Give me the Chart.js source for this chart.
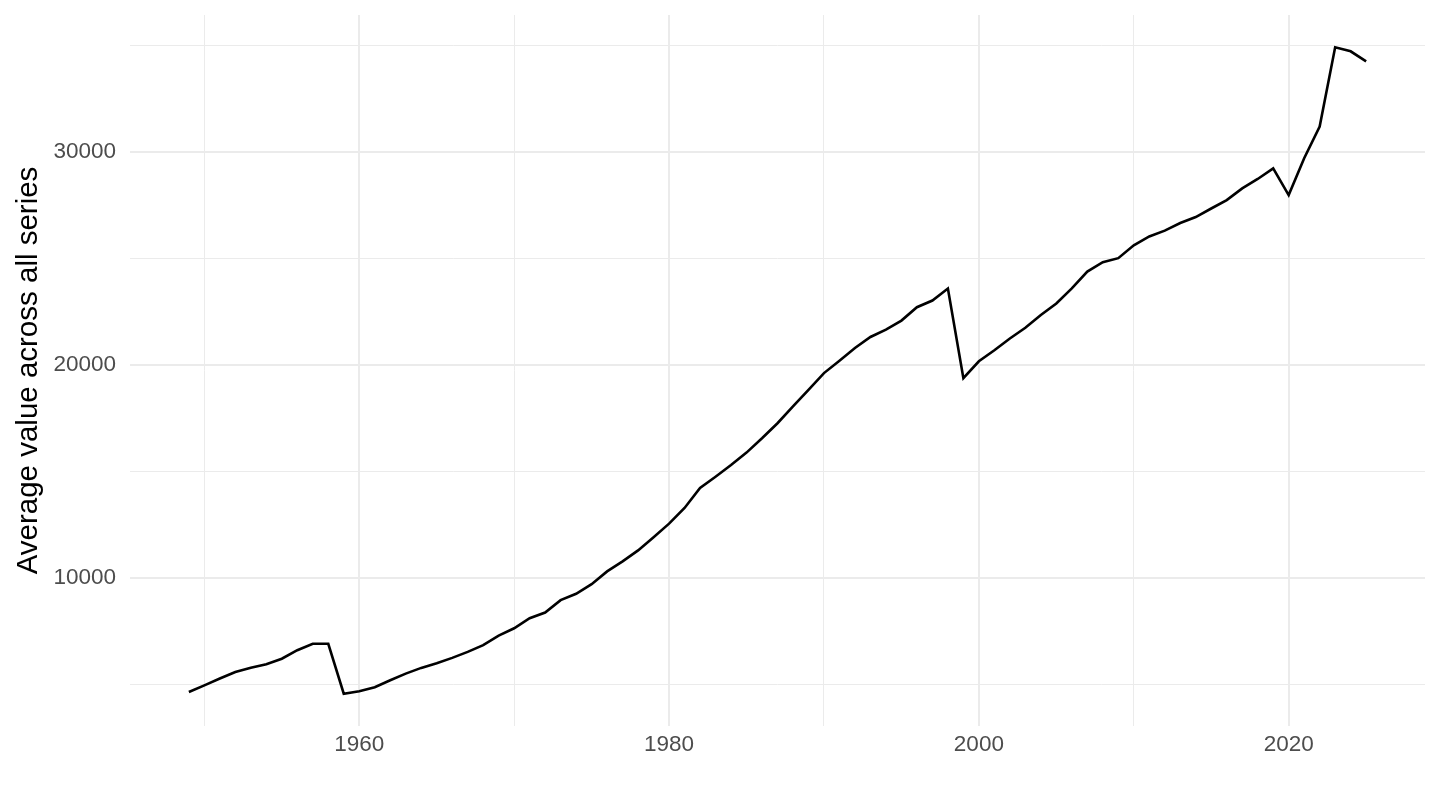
<!DOCTYPE html>
<html>
<head>
<meta charset="utf-8">
<script src="https://cdn.jsdelivr.net/npm/chart.js@4"></script>
<style>
  html, body { margin: 0; padding: 0; background: #fff; }
  #wrap { width: 1440px; height: 810px; }
</style>
</head>
<body>
<div id="wrap"><canvas id="avgChart" width="1440" height="810"></canvas></div>
<script>
const years = [
  1949, 1950, 1951, 1952, 1953, 1954, 1955, 1956, 1957, 1958,
  1959, 1960, 1961, 1962, 1963, 1964, 1965, 1966, 1967, 1968,
  1969, 1970, 1971, 1972, 1973, 1974, 1975, 1976, 1977, 1978,
  1979, 1980, 1981, 1982, 1983, 1984, 1985, 1986, 1987, 1988,
  1989, 1990, 1991, 1992, 1993, 1994, 1995, 1996, 1997, 1998,
  1999, 2000, 2001, 2002, 2003, 2004, 2005, 2006, 2007, 2008,
  2009, 2010, 2011, 2012, 2013, 2014, 2015, 2016, 2017, 2018,
  2019, 2020, 2021, 2022, 2023, 2024, 2025
];
const avgValues = [
  4640, 4950, 5270, 5580, 5780, 5940, 6200, 6600, 6900, 6900,
  4560, 4670, 4860, 5190, 5500, 5770, 5990, 6240, 6520, 6840,
  7285, 7630, 8100, 8370, 8950, 9250, 9700, 10300, 10770, 11285,
  11900, 12540, 13275, 14215, 14744, 15294, 15873, 16546, 17252, 18038,
  18823, 19605, 20188, 20780, 21300, 21645, 22070, 22696, 23010, 23576,
  19370, 20160, 20680, 21230, 21730, 22330, 22870, 23580, 24370, 24810,
  25000, 25600, 26020, 26290, 26650, 26930, 27330, 27725, 28275, 28715,
  29215, 27960, 29686, 31176, 34894, 34706, 34235
];
const xBreaks = [1950, 1960, 1970, 1980, 1990, 2000, 2010, 2020];
const xLabels = [1960, 1980, 2000, 2020];
const yBreaks = [5000, 10000, 15000, 20000, 25000, 30000, 35000];
const yLabels = [10000, 20000, 30000];
const yTitle = 'Average value across all series';

// ggplot-style 5% expansion of the data range
function expand(arr) {
  const lo = Math.min(...arr), hi = Math.max(...arr);
  const pad = (hi - lo) * 0.05;
  return [lo - pad, hi + pad];
}
const [xMin, xMax] = expand(years);
const [yMin, yMax] = expand(avgValues);

const points = years.map((y, i) => ({x: y, y: avgValues[i]}));
const FONT = "'Liberation Sans', Arial, Helvetica, sans-serif";

new Chart(document.getElementById('avgChart'), {
  type: 'line',
  data: {
    datasets: [{
      data: points,
      borderColor: '#000000',
      borderWidth: 2.6,
      pointRadius: 0,
      tension: 0,
      fill: false
    }]
  },
  options: {
    responsive: false,
    animation: false,
    devicePixelRatio: 1,
    layout: { padding: { top: 15, right: 15, left: 0, bottom: 0 } },
    plugins: { legend: { display: false }, tooltip: { enabled: false } },
    scales: {
      x: {
        type: 'linear',
        min: xMin,
        max: xMax,
        border: { display: false },
        afterBuildTicks: s => { s.ticks = xBreaks.map(v => ({value: v})); },
        afterFit: s => { s.height = 84; s.paddingLeft = 0; s.paddingRight = 0; },
        grid: {
          color: '#EBEBEB',
          drawTicks: false,
          lineWidth: c => (c.tick && xLabels.includes(c.tick.value)) ? 2 : 1
        },
        ticks: {
          autoSkip: false,
          maxRotation: 0,
          padding: 5,
          color: '#4D4D4D',
          font: { family: FONT, size: 22.5 },
          callback: v => xLabels.includes(v) ? String(v) : ''
        }
      },
      y: {
        type: 'linear',
        min: yMin,
        max: yMax,
        border: { display: false },
        afterBuildTicks: s => { s.ticks = yBreaks.map(v => ({value: v})); },
        afterFit: s => { s.width = 130; s.paddingTop = 0; s.paddingBottom = 0; },
        grid: {
          color: '#EBEBEB',
          drawTicks: false,
          lineWidth: c => (c.tick && yLabels.includes(c.tick.value)) ? 2 : 1
        },
        ticks: {
          autoSkip: false,
          padding: 14,
          color: '#4D4D4D',
          font: { family: FONT, size: 22.5 },
          callback: v => yLabels.includes(v) ? String(v) : ''
        },
        title: {
          display: true,
          text: yTitle,
          color: '#000000',
          padding: { top: 11.5, bottom: 0 },
          font: { family: FONT, size: 29.5 }
        }
      }
    }
  }
});
</script>
</body>
</html>
